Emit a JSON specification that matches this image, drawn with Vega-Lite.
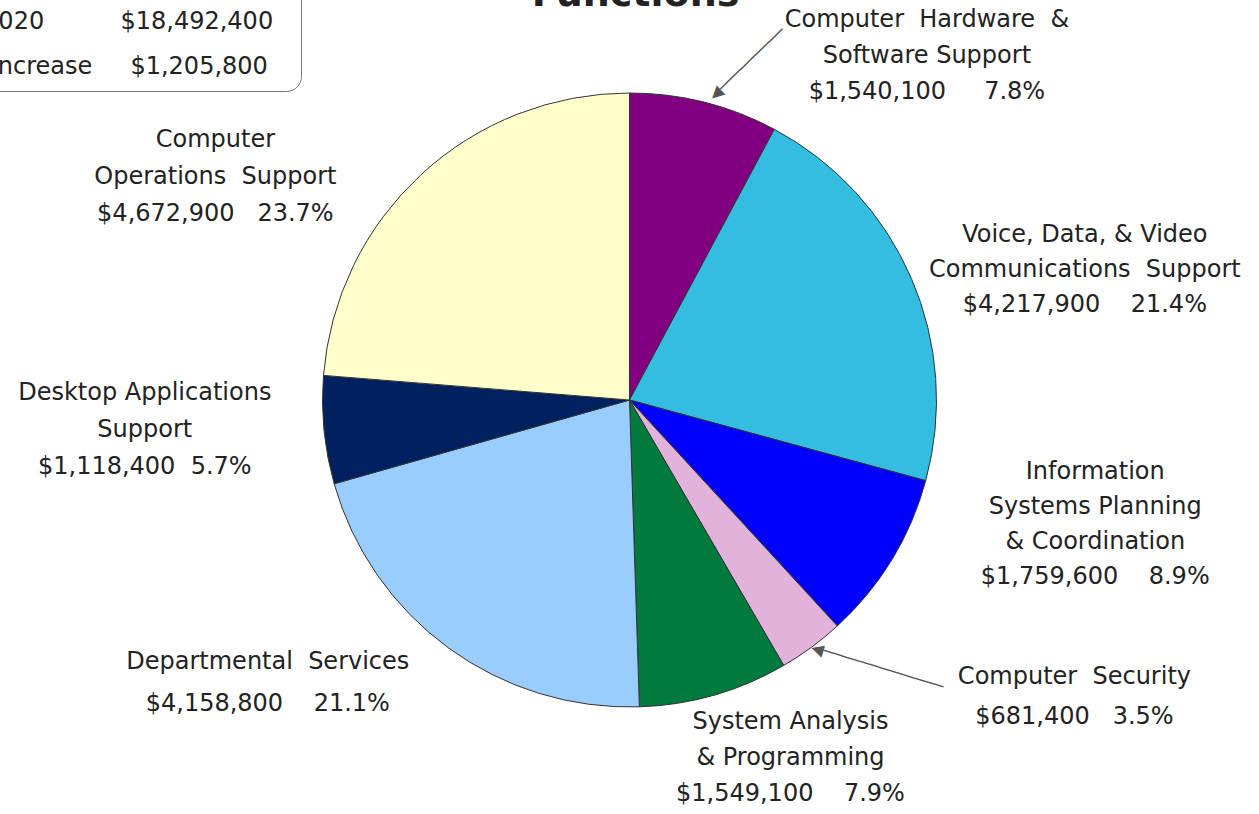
{
  "$schema": "https://vega.github.io/schema/vega-lite/v6.json",
  "width": 1259,
  "height": 800,
  "autosize": {"type": "none"},
  "padding": {"top": 0, "left": 0, "right": 0, "bottom": 14},
  "background": "white",
  "config": {"view": {"stroke": null}, "font": "DejaVu Sans"},
  "layer": [
    {
      "data": {
        "values": [
          {"seq": 1, "category": "Computer Hardware & Software Support", "amount": 1540100, "label": "Computer\u00a0\u00a0Hardware\u00a0\u00a0&\nSoftware Support\n$1,540,100\u00a0\u00a0\u00a0\u00a0\u00a07.8%"},
          {"seq": 2, "category": "Voice, Data, & Video Communications Support", "amount": 4217900, "label": "Voice, Data, & Video\nCommunications\u00a0\u00a0Support\n$4,217,900\u00a0\u00a0\u00a0\u00a021.4%"},
          {"seq": 3, "category": "Information Systems Planning & Coordination", "amount": 1759600, "label": "Information\nSystems Planning\n& Coordination\n$1,759,600\u00a0\u00a0\u00a0\u00a08.9%"},
          {"seq": 4, "category": "Computer Security", "amount": 681400, "label": "Computer\u00a0\u00a0Security\n$681,400\u00a0\u00a0\u00a03.5%"},
          {"seq": 5, "category": "System Analysis & Programming", "amount": 1549100, "label": "System Analysis\n& Programming\n$1,549,100\u00a0\u00a0\u00a0\u00a07.9%"},
          {"seq": 6, "category": "Departmental Services", "amount": 4158800, "label": "Departmental\u00a0\u00a0Services\n$4,158,800\u00a0\u00a0\u00a0\u00a021.1%"},
          {"seq": 7, "category": "Desktop Applications Support", "amount": 1118400, "label": "Desktop Applications\nSupport\n$1,118,400\u00a0\u00a05.7%"},
          {"seq": 8, "category": "Computer Operations Support", "amount": 4672900, "label": "Computer\nOperations\u00a0\u00a0Support\n$4,672,900\u00a0\u00a0\u00a023.7%"}
        ]
      },
      "encoding": {
        "theta": {"field": "amount", "type": "quantitative", "stack": true},
        "order": {"field": "seq", "type": "quantitative"}
      },
      "layer": [
        {
          "mark": {"type": "arc", "outerRadius": 307, "stroke": "#333", "strokeWidth": 1},
          "encoding": {
            "color": {
              "field": "category", "type": "nominal", "legend": null,
              "scale": {
                "domain": ["Computer Hardware & Software Support", "Voice, Data, & Video Communications Support", "Information Systems Planning & Coordination", "Computer Security", "System Analysis & Programming", "Departmental Services", "Desktop Applications Support", "Computer Operations Support"],
                "range": ["#800080", "#33BDE0", "#0000FF", "#E0B2DC", "#007A3D", "#99CCFF", "#002060", "#FFFFCC"]
              }
            }
          }
        },
        {
          "mark": {"type": "text", "radius": 305, "dx": 10, "dy": 1, "angle": -44, "align": "left", "baseline": "middle", "fontSize": 16, "letterSpacing": 0, "color": "#555"},
          "encoding": {"detail": {"field": "category", "type": "nominal"}, "text": {"condition": {"test": "datum.seq === 1", "value": "◀─────────"}, "value": ""}}
        },
        {
          "mark": {"type": "text", "radius": 307, "angle": 17, "align": "left", "baseline": "middle", "fontSize": 16, "letterSpacing": 0, "color": "#555"},
          "encoding": {"detail": {"field": "category", "type": "nominal"}, "text": {"condition": {"test": "datum.seq === 4", "value": "◀─────────────"}, "value": ""}}
        },
        {
          "mark": {"type": "text", "radius": 380, "dx": 205, "dy": -11, "align": "center", "baseline": "middle", "fontSize": 24, "letterSpacing": 0.5, "lineHeight": 36, "lineBreak": "\n", "color": "#222"},
          "encoding": {"detail": {"field": "category", "type": "nominal"}, "text": {"condition": {"test": "datum.seq === 1", "field": "label", "type": "nominal"}, "value": ""}}
        },
        {
          "mark": {"type": "text", "radius": 400, "dx": 88, "dy": -7, "align": "center", "baseline": "middle", "fontSize": 24, "letterSpacing": 0.5, "lineHeight": 35, "lineBreak": "\n", "color": "#222"},
          "encoding": {"detail": {"field": "category", "type": "nominal"}, "text": {"condition": {"test": "datum.seq === 2", "field": "label", "type": "nominal"}, "value": ""}}
        },
        {
          "mark": {"type": "text", "radius": 400, "dx": 124, "dy": -136, "align": "center", "baseline": "middle", "fontSize": 24, "letterSpacing": 0.5, "lineHeight": 35, "lineBreak": "\n", "color": "#222"},
          "encoding": {"detail": {"field": "category", "type": "nominal"}, "text": {"condition": {"test": "datum.seq === 3", "field": "label", "type": "nominal"}, "value": ""}}
        },
        {
          "mark": {"type": "text", "radius": 450, "dx": 178, "dy": -85, "align": "center", "baseline": "middle", "fontSize": 24, "letterSpacing": 0.5, "lineHeight": 40, "lineBreak": "\n", "color": "#222"},
          "encoding": {"detail": {"field": "category", "type": "nominal"}, "text": {"condition": {"test": "datum.seq === 4", "field": "label", "type": "nominal"}, "value": ""}}
        },
        {
          "mark": {"type": "text", "radius": 330, "dx": 70, "dy": 5, "align": "center", "baseline": "middle", "fontSize": 24, "letterSpacing": 0.5, "lineHeight": 36, "lineBreak": "\n", "color": "#222"},
          "encoding": {"detail": {"field": "category", "type": "nominal"}, "text": {"condition": {"test": "datum.seq === 5", "field": "label", "type": "nominal"}, "value": ""}}
        },
        {
          "mark": {"type": "text", "radius": 330, "dx": -167, "dy": -4, "align": "center", "baseline": "middle", "fontSize": 24, "letterSpacing": 0.5, "lineHeight": 42, "lineBreak": "\n", "color": "#222"},
          "encoding": {"detail": {"field": "category", "type": "nominal"}, "text": {"condition": {"test": "datum.seq === 6", "field": "label", "type": "nominal"}, "value": ""}}
        },
        {
          "mark": {"type": "text", "radius": 480, "dx": -7, "dy": -54, "align": "center", "baseline": "middle", "fontSize": 24, "letterSpacing": 0.5, "lineHeight": 37, "lineBreak": "\n", "color": "#222"},
          "encoding": {"detail": {"field": "category", "type": "nominal"}, "text": {"condition": {"test": "datum.seq === 7", "field": "label", "type": "nominal"}, "value": ""}}
        },
        {
          "mark": {"type": "text", "radius": 360, "dx": -170, "dy": 5, "align": "center", "baseline": "middle", "fontSize": 24, "letterSpacing": 0.5, "lineHeight": 37, "lineBreak": "\n", "color": "#222"},
          "encoding": {"detail": {"field": "category", "type": "nominal"}, "text": {"condition": {"test": "datum.seq === 8", "field": "label", "type": "nominal"}, "value": ""}}
        }
      ]
    },
    {
      "data": {"values": [{"title": "Functions"}]},
      "mark": {"type": "text", "dx": 6, "dy": -394, "align": "center", "baseline": "alphabetic", "fontSize": 38, "fontWeight": "bold", "color": "#222"},
      "encoding": {"text": {"field": "title", "type": "nominal"}}
    },
    {
      "data": {
        "values": [
          {"line": "FY 2021\u00a0\u00a0\u00a0\u00a0\u00a0\u00a0\u00a0\u00a0\u00a0\u00a0$19,698,200\u00a0\u00a0\u200b"},
          {"line": "FY 2020\u00a0\u00a0\u00a0\u00a0\u00a0\u00a0\u00a0\u00a0\u00a0\u00a0$18,492,400\u00a0\u00a0\u200b"},
          {"line": "FY\u00a0\u00a0Increase\u00a0\u00a0\u00a0\u00a0\u00a0$1,205,800\u00a0\u00a0\u200b"}
        ]
      },
      "mark": {"type": "point", "opacity": 0},
      "encoding": {
        "shape": {
          "field": "line", "type": "nominal", "sort": null,
          "legend": {
            "orient": "none", "legendX": -89, "legendY": -47, "title": null,
            "labelFont": "DejaVu Sans", "labelFontSize": 24, "labelColor": "#222", "labelLimit": 800,
            "symbolSize": 1, "symbolOpacity": 0, "symbolStrokeWidth": 0, "labelOffset": 0,
            "rowPadding": 21, "padding": 12, "strokeColor": "#777", "fillColor": "white", "cornerRadius": 15
          }
        }
      }
    }
  ]
}
